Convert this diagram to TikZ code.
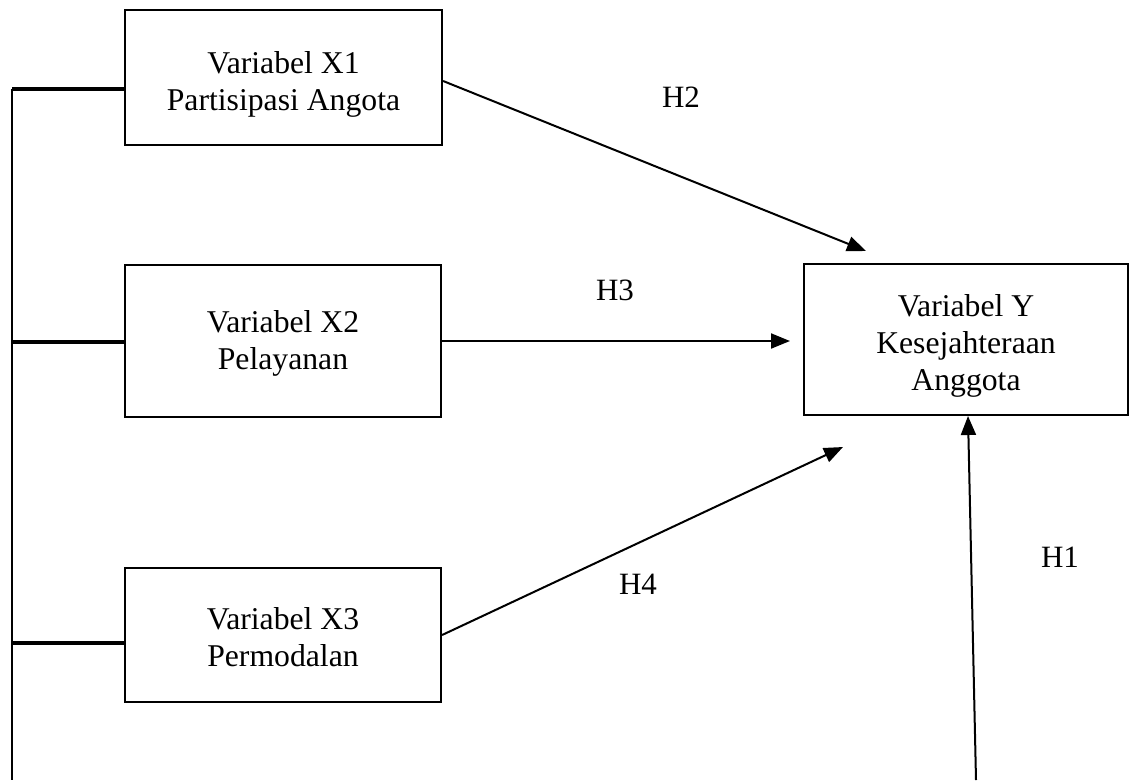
\documentclass[tikz,border=0pt]{standalone}
\usepackage{fontspec}
\setmainfont{Liberation Serif}
\usetikzlibrary{calc}
\usetikzlibrary{positioning}
\usetikzlibrary{arrows.meta}

\newcommand{\topgap}[1]{\rule{0pt}{#1pt}}

\tikzset{
  varbox/.style={draw, line width=2.2pt, align=center, inner sep=0pt,
    font=\fontsize{31.7}{37}\selectfont},
  hlabel/.style={anchor=base, font=\fontsize{31}{36}\selectfont},
  hyparrow/.style={line width=2pt, -{Triangle[length=19pt,width=15pt]}},
  stub/.style={line width=3.3pt},
}

\begin{document}
\begin{tikzpicture}[x=1pt,y=-1pt]
\useasboundingbox (0,0) rectangle (1130,780);

% boxes
\node[varbox, minimum width=317pt, minimum height=135pt] (x1) at (283.5,77.5) {\topgap{36}Variabel X1\\Partisipasi Angota};
\node[varbox, minimum width=316pt, minimum height=152pt] (x2) at (283,341) {\topgap{27.5}Variabel X2\\Pelayanan};
\node[varbox, minimum width=316pt, minimum height=134pt] (x3) at (283,635) {\topgap{25.5}Variabel X3\\Permodalan};
\node[varbox, minimum width=324pt, minimum height=151pt] (y) at (966,339.5) {\topgap{34}Variabel Y\\Kesejahteraan\\Anggota};

% left bracket
\coordinate (s1) at (12,89);
\coordinate (s2) at (12,342);
\coordinate (s3) at (11,643);
\coordinate (sb) at (12,780);
\draw[line width=1.3pt] (s1) -- (sb);
\draw[stub] (s1) -- (s1 -| x1.west);
\draw[stub] (s2) -- (s2 -| x2.west);
\draw[stub] (s3) -- (s3 -| x3.west);

% arrows
\coordinate (e1) at (866,251);
\coordinate (e2) at (790,341);
\coordinate (e3) at (843,447);
\coordinate (b1) at (976,780);
\coordinate (t1) at (968,416);
\draw[hyparrow] (x1.east |- 0,81) -- (e1);
\draw[hyparrow] (x2.east |- e2) -- (e2);
\draw[hyparrow] (x3.east) -- (e3);
\draw[hyparrow] (b1) -- (t1);

% labels
\node[hlabel] (h2) at (681,107) {H2};
\node[hlabel] (h3) at (615,300) {H3};
\node[hlabel] (h4) at (638,594) {H4};
\node[hlabel] (h1) at (1060,567) {H1};

\end{tikzpicture}
\end{document}
